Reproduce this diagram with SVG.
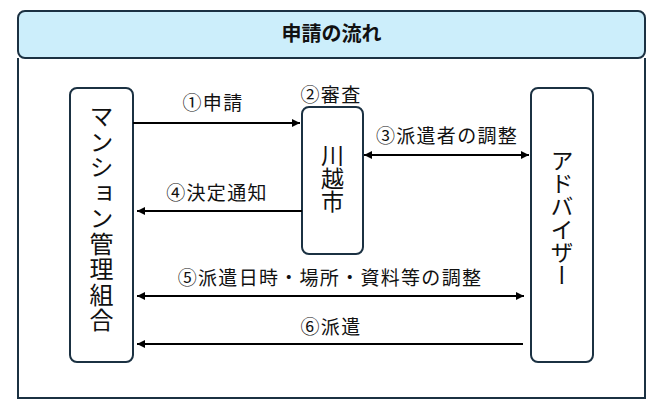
<svg xmlns="http://www.w3.org/2000/svg" width="666" height="410" viewBox="0 0 666 410">
<defs>
<style>
.frame{fill:none;stroke:#1b3142;stroke-width:2}
.hdr{fill:#cceefb;stroke:#1b3142;stroke-width:2}
.box{fill:#ffffff;stroke:#1b3142;stroke-width:2}
.lbl{font-family:"Noto Sans CJK JP","Noto Sans",sans-serif;font-size:19px;letter-spacing:1.3px;fill:#111;text-anchor:middle}
.title{font-family:"Noto Sans CJK JP","Noto Sans",sans-serif;font-size:20px;font-weight:bold;fill:#111;text-anchor:middle}
.vt{font-family:"Noto Sans CJK JP","Noto Sans",sans-serif;font-size:23px;fill:#111;text-anchor:middle;writing-mode:vertical-rl}
.conn path{fill:none;stroke:#000;stroke-width:2}
</style>
<marker id="ah" viewBox="0 0 10 10" refX="10" refY="5" markerWidth="9" markerHeight="8" markerUnits="userSpaceOnUse" orient="auto-start-reverse">
<path d="M0,0 L10,5 L0,10 z" fill="#000"/>
</marker>
</defs>
<rect width="666" height="410" fill="#ffffff"/>
<g id="frame">
<path class="frame" d="M18,58 V398 H645 V58"/>
<rect class="hdr" x="18" y="11" width="627" height="47" rx="7"/>
<text class="title" x="331.5" y="41">申請の流れ</text>
</g>
<g id="kumiai">
<rect class="box" x="70" y="88" width="63" height="274" rx="7"/>
<text class="vt" x="101.5" y="219" style="font-size:24px;letter-spacing:1.5px">マンション管理組合</text>
</g>
<g id="kawagoe">
<rect class="box" x="302" y="107" width="61" height="147" rx="7"/>
<text class="vt" x="332.5" y="178">川越市</text>
</g>
<g id="advisor">
<rect class="box" x="531" y="88" width="62" height="274" rx="7"/>
<text class="vt" x="562" y="218">アドバイザー</text>
</g>
<g id="connectors" class="conn">
<path d="M133,123 H300" marker-end="url(#ah)"/>
<path d="M364,155 H529" marker-start="url(#ah)" marker-end="url(#ah)"/>
<path d="M302,211 H137" marker-end="url(#ah)"/>
<path d="M137,296 H524" marker-start="url(#ah)" marker-end="url(#ah)"/>
<path d="M523,344 H137" marker-end="url(#ah)"/>
</g>
<g id="labels">
<text class="lbl" x="213" y="110">①申請</text>
<text class="lbl" x="331" y="102">②審査</text>
<text class="lbl" x="447" y="143">③派遣者の調整</text>
<text class="lbl" x="217" y="200">④決定通知</text>
<text class="lbl" x="330" y="285">⑤派遣日時・場所・資料等の調整</text>
<text class="lbl" x="331" y="334">⑥派遣</text>
</g>
</svg>
